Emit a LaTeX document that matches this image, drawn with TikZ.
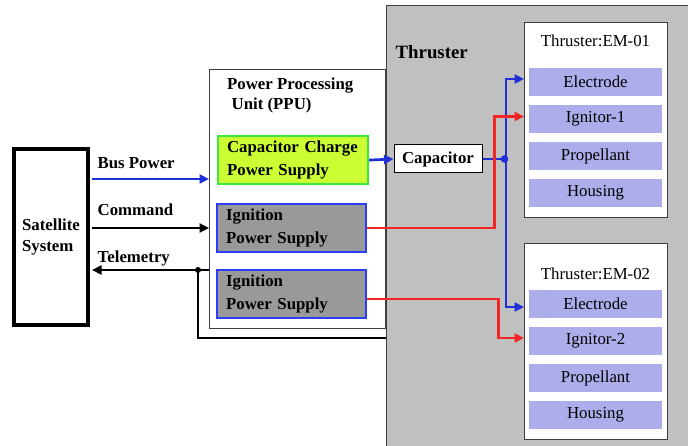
\documentclass[tikz,border=0pt]{standalone}
\usepackage{fontspec}
\setmainfont{Liberation Serif}
\usetikzlibrary{arrows.meta,positioning}
\definecolor{linkblue}{HTML}{1F2FD6}
\definecolor{linkred}{HTML}{F22424}
\definecolor{chargefill}{HTML}{CCFF33}
\definecolor{chargeline}{HTML}{3DE83D}
\definecolor{ignfill}{HTML}{999999}
\definecolor{ignline}{HTML}{2B3DFA}
\definecolor{bay}{HTML}{C0C0C0}
\definecolor{partfill}{HTML}{ADADEB}
\definecolor{frame}{HTML}{404040}

\begin{document}
\begin{tikzpicture}[x=1pt, y=-1pt,
  font=\fontsize{16.8}{22.5}\selectfont,
  lbl/.style={font=\bfseries\fontsize{16.8}{22.5}\selectfont, inner sep=0pt},
  supply/.style={draw=ignline, fill=ignfill, line width=2.2pt, anchor=north west,
    minimum width=149pt, minimum height=48pt, text width=131pt, inner xsep=9pt,
    inner ysep=1pt, align=left, font=\bfseries\fontsize{16.8}{22.5}\selectfont},
  unitbox/.style={draw=frame, fill=white, line width=1pt, anchor=north west,
    minimum width=143pt},
  part/.style={fill=partfill, minimum width=133pt, minimum height=28pt, inner sep=0pt},
  wire/.style={line width=2.7pt},
  arrowed/.style={-{Triangle[length=9.5pt,width=9pt]}}
]
  \useasboundingbox (0,0) rectangle (688,446);

  % satellite side
  \node[draw, line width=3.2pt, minimum width=74pt, minimum height=176pt, align=left,
    font=\bfseries\fontsize{16.8}{20.6}\selectfont] (sat) at (51,237) {Satellite\\System};
  \coordinate (bus) at (92,179);
  \coordinate (cmd) at (92,228);
  \coordinate (tel) at (92,270);
  \coordinate (tap) at (198,270);
  \coordinate (telret) at (386,338);
  \node[lbl, anchor=base west] (buslbl) at (97.5,169) {Bus Power};
  \node[lbl, anchor=base west] (cmdlbl) at (97.5,215.5) {Command};
  \node[lbl, anchor=base west] (tellbl) at (97.5,262.7) {Telemetry};

  % power processing unit
  \node[draw=frame, fill=white, line width=1pt, anchor=north west,
    minimum width=176pt, minimum height=259pt] (ppu) at (209,69) {};
  \node[lbl, anchor=base west, align=left, font=\bfseries\fontsize{16.8}{20}\selectfont]
    (ppuname) at (227,109.3) {Power Processing\\\hspace*{4.5pt}Unit (PPU)};
  \node[supply, draw=chargeline, fill=chargefill, minimum width=150pt, text width=132pt]
    (charge) at (217,135) {Capacitor Charge\\Power Supply};
  \node[supply] (ps1) at (216,203) {Ignition\\Power Supply};
  \node[supply] (ps2) at (216,269) {Ignition\\Power Supply};

  % thruster
  \node[draw=frame, fill=bay, line width=1pt, anchor=north west,
    minimum width=330pt, minimum height=470pt] (thr) at (386,5) {};
  \node[lbl, font=\bfseries\fontsize{18.8}{22}\selectfont, anchor=base west]
    (thrname) at (395.5,59) {Thruster};
  \node[draw, fill=white, line width=1pt, minimum width=88pt, minimum height=28pt, lbl]
    (cap) at (438,159) {Capacitor};
  \node[unitbox, minimum height=195pt] (em1) at (524,22) {};
  \node[unitbox, minimum height=196pt] (em2) at (524,243) {};
  \node[anchor=base] (em1name) at (595.5,46.7) {Thruster:EM-01};
  \node[anchor=base] (em2name) at (595.5,279.3) {Thruster:EM-02};
  \foreach \k/\y in {1/82,2/304} {
    \foreach \lab [count=\i] in {Electrode,Ignitor-\k,Propellant,Housing}
      \node[part] (p\k-\i) at (595.5,\y+37*\i-37) {\lab};
  }

  % links
  \draw[wire, linkblue, arrowed] (bus) -- (bus -| ppu.west);
  \draw[wire, arrowed] (cmd) -- (cmd -| ppu.west);
  \draw[wire, arrowed] (tel -| ppu.west) -- (tel);
  \fill (tap) circle (3);
  \draw[wire] (tap) |- (telret);

  \draw[wire, linkblue, arrowed] (charge.east) -- (cap.west);
  \coordinate (capjoin) at (506,159);
  \draw[wire, linkblue] (cap.east) -- (capjoin);
  \fill[linkblue] ([xshift=-1.5pt]capjoin) circle (3.8);
  \draw[wire, linkblue, arrowed] (capjoin) |- ([yshift=3pt]p1-1.west -| em1.west);
  \draw[wire, linkblue, arrowed] (capjoin) |- ([yshift=-3pt]p2-1.west -| em2.west);
  \draw[wire, linkred, arrowed] (ps1.east) -- ++(127,0) |- ([yshift=2.5pt]p1-2.west -| em1.west);
  \draw[wire, linkred, arrowed] ([yshift=-5pt]ps2.east) -- ++(131,0) |- ([yshift=3pt]p2-2.west -| em2.west);
\end{tikzpicture}
\end{document}
